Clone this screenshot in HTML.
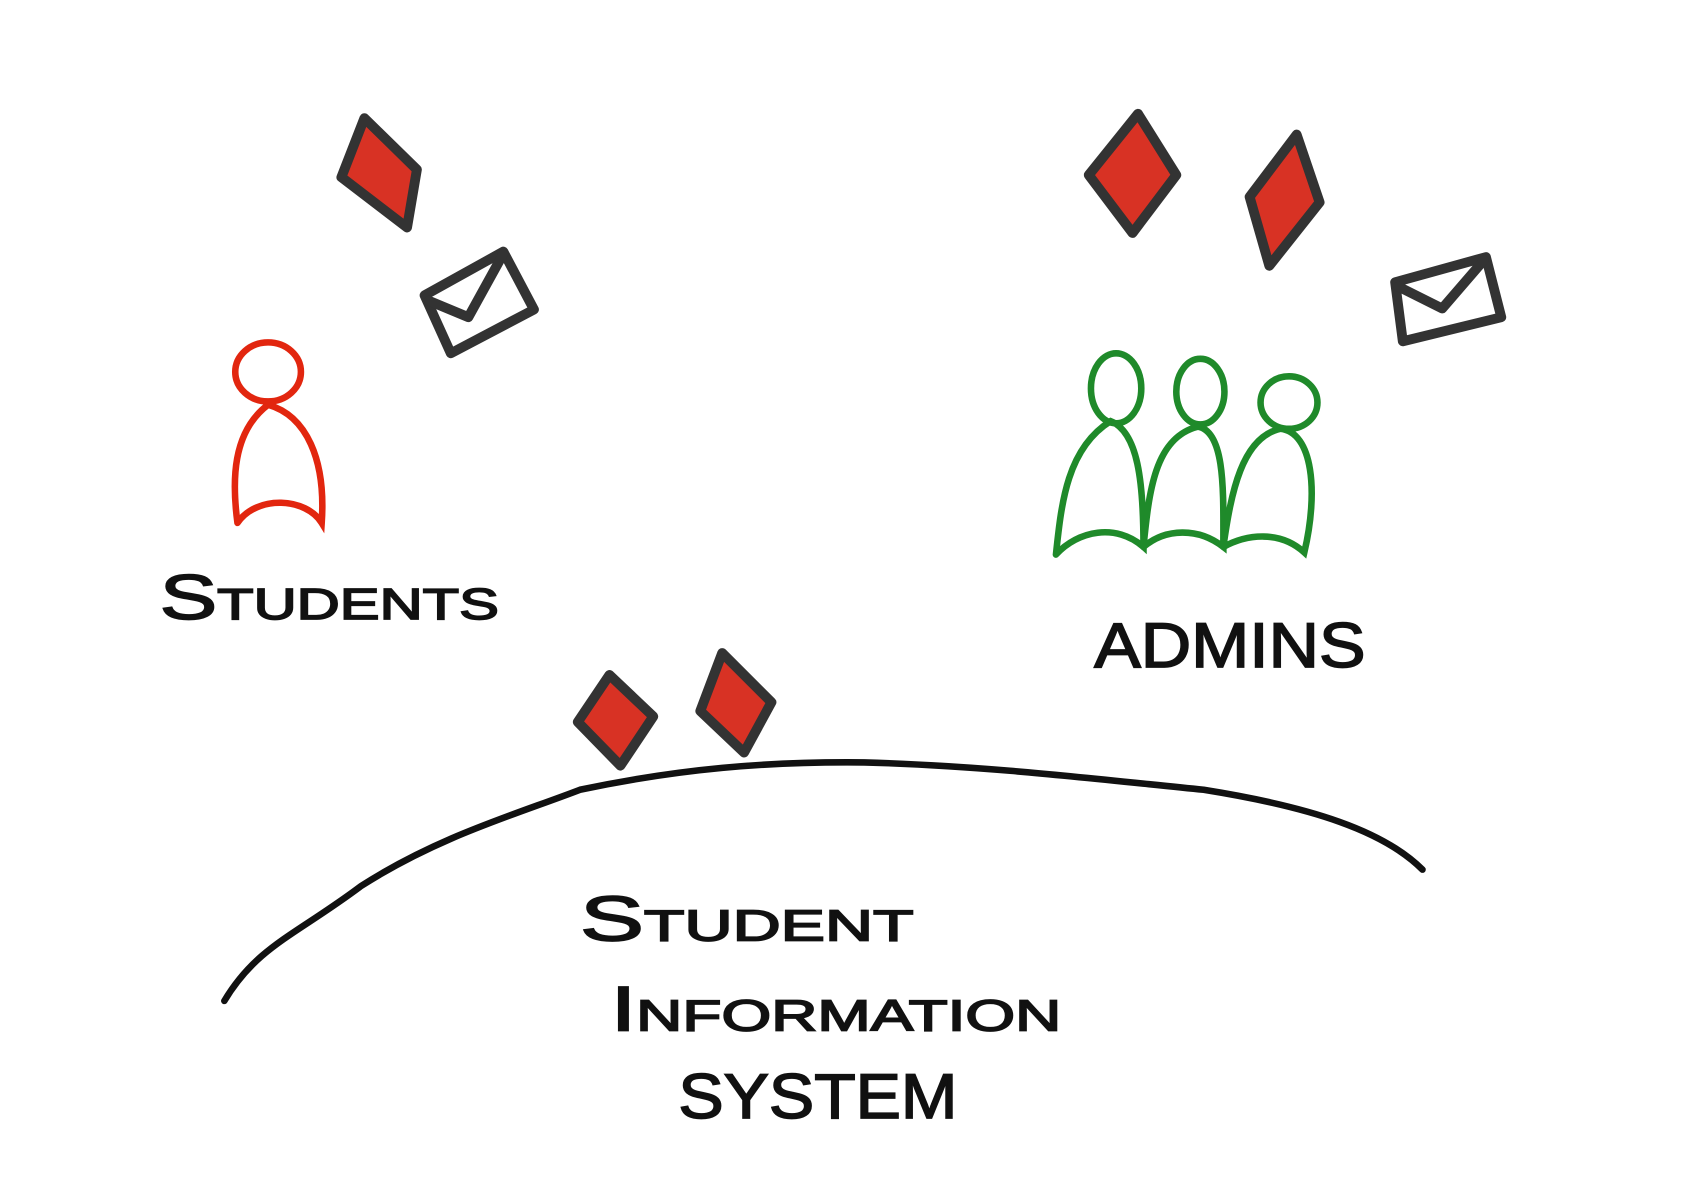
<!DOCTYPE html>
<html><head><meta charset="utf-8"><style>
html,body{margin:0;padding:0;background:#fff;}
svg{display:block;}
text{font-family:"Liberation Sans",sans-serif;fill:#111;}
</style></head><body>
<svg width="1707" height="1177" viewBox="0 0 1560 1076" preserveAspectRatio="none" xmlns="http://www.w3.org/2000/svg">
<g stroke="#333" stroke-width="9" stroke-linejoin="round" stroke-linecap="round" fill="#d83224">
<path d="M333 108 L381 155 L372 208 L312 162 Z"/>
<path d="M1040 104 L1075 160 L1035 213 L995 160 Z"/>
<path d="M1185 123 L1206 185 L1160 243 L1142 180 Z"/>
<path d="M557 617 L597 655 L567 700 L528 660 Z"/>
<path d="M660 597 L705 642 L680 688 L640 650 Z"/>
</g>
<g stroke="#333" stroke-width="9" stroke-linejoin="round" stroke-linecap="round" fill="#fff">
<path d="M388 270 L460 230 L488 283 L412 323 Z"/>
<path d="M392 275 L428 290 L460 232" fill="none"/>
<path d="M1275 258 L1358 235 L1372 290 L1282 312 Z"/>
<path d="M1278 262 L1318 282 L1356 238" fill="none"/>
</g>
<g fill="none" stroke="#e2260f" stroke-width="6" stroke-linecap="round">
<ellipse cx="245" cy="340" rx="30" ry="27"/>
<path d="M217 478 C212 440 212 395 245 370 C280 380 298 420 294 478 C280 455 235 452 217 478"/>
</g>
<g fill="none" stroke="#1f8a2a" stroke-width="6" stroke-linecap="round">
<ellipse cx="1020" cy="355" rx="23" ry="32"/>
<ellipse cx="1097" cy="358" rx="22" ry="30"/>
<ellipse cx="1178" cy="368" rx="26" ry="24"/>
<path d="M965 507 C970 460 975 410 1015 385 C1040 395 1045 440 1045 500 C1020 478 985 485 965 507"/>
<path d="M1045 500 C1050 450 1055 400 1095 390 C1120 395 1118 450 1118 500 C1095 482 1065 483 1045 500"/>
<path d="M1118 500 C1125 450 1135 400 1170 392 C1200 395 1205 450 1192 505 C1170 485 1140 488 1118 500"/>
</g>
<path d="M205 915 C235 865 270 855 330 810 C400 765 470 745 530 722 C620 703 700 696 790 697 C900 700 1000 712 1100 722 C1200 738 1265 760 1300 795" fill="none" stroke="#111" stroke-width="6" stroke-linecap="round"/>
<g font-size="58" style="font-variant:small-caps" font-weight="normal" stroke="#111" stroke-width="1.5">
<text x="146" y="566" textLength="310" lengthAdjust="spacingAndGlyphs">Students</text>
<text x="1000" y="610" textLength="248" lengthAdjust="spacingAndGlyphs">ADMINS</text>
<text x="530" y="860" textLength="305" lengthAdjust="spacingAndGlyphs">Student</text>
<text x="558" y="942" textLength="412" lengthAdjust="spacingAndGlyphs">Information</text>
<text x="620" y="1022" textLength="255" lengthAdjust="spacingAndGlyphs">SYSTEM</text>
</g>
</svg>
</body></html>
